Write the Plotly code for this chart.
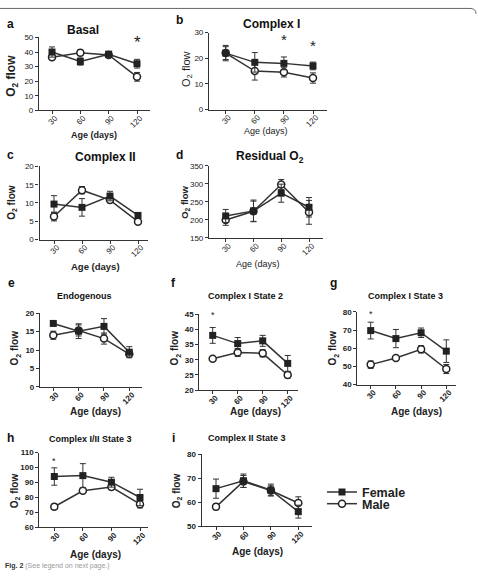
import plotly.graph_objects as go

W, H = 478, 576
FONT = "Liberation Sans, Arial, sans-serif"
INK = "#222222"

ages = ["30", "60", "90", "120"]

# ---- data (O2 flow, mean and error) ----
basal_female = [40.0, 33.5, 38.5, 32.0]
basal_female_err = [3.5, 2.5, 2.0, 3.0]
basal_male = [36.5, 39.5, 38.0, 23.0]
basal_male_err = [1.8, 2.0, 1.5, 3.0]

c1_female = [22.0, 18.4, 18.0, 17.0]
c1_female_err = [2.5, 3.8, 2.5, 1.5]
c1_male = [22.0, 15.0, 14.5, 12.3]
c1_male_err = [3.0, 3.5, 1.8, 2.0]

c2_female = [9.7, 8.8, 11.9, 6.6]
c2_female_err = [2.3, 2.4, 1.3, 0.6]
c2_male = [6.3, 13.5, 10.8, 4.9]
c2_male_err = [1.2, 1.0, 0.7, 0.7]

res_female = [211, 225, 274, 235]
res_female_err = [18, 30, 25, 27]
res_male = [200, 224, 298, 221]
res_male_err = [15, 28, 14, 33]

endo_female = [17.2, 15.1, 16.4, 9.4]
endo_female_err = [0.3, 2.0, 2.1, 1.5]
endo_male = [14.0, 15.3, 13.1, 8.9]
endo_male_err = [1.1, 1.5, 1.5, 0.5]

c1s2_female = [38.0, 35.3, 36.2, 28.8]
c1s2_female_err = [2.6, 2.0, 1.8, 2.6]
c1s2_male = [30.3, 32.4, 32.1, 25.0]
c1s2_male_err = [0.3, 1.3, 1.2, 1.0]

c1s3_female = [69.7, 65.3, 68.5, 58.4]
c1s3_female_err = [4.6, 5.0, 2.6, 6.2]
c1s3_male = [51.0, 54.6, 59.4, 48.6]
c1s3_male_err = [2.0, 0.5, 2.0, 2.5]

c12s3_female = [94.0, 94.6, 90.2, 80.0]
c12s3_female_err = [5.8, 8.0, 3.3, 5.5]
c12s3_male = [73.8, 84.5, 87.0, 75.5]
c12s3_male_err = [1.8, 1.0, 1.5, 2.5]

c2s3_female = [65.6, 68.9, 65.0, 56.0]
c2s3_female_err = [4.0, 2.8, 2.5, 2.7]
c2s3_male = [58.0, 68.6, 64.8, 59.6]
c2s3_male_err = [1.2, 2.5, 2.0, 2.6]

# ---- panel layout (pixel geometry) ----
panels = [
    dict(letter="a", title="<b>Basal</b>", tsize=12, data=(basal_female, basal_female_err, basal_male, basal_male_err),
         xl=39, xr=150, yt=34, yb=108, x30=52, x120=137, yr=(0, 50), dt=10,
         lab=(10, 20), tit=(83, 26), ytit=(12, 73, 12, True), xtit=(94, 133, 9, True), tick=(8, False),
         stars=[(3, 46.5, 17)]),
    dict(letter="b", title="<b>Complex I</b>", tsize=12, data=(c1_female, c1_female_err, c1_male, c1_male_err),
         xl=209, xr=327, yt=29, yb=107.3, x30=225.7, x120=313, yr=(0, 30), dt=10,
         lab=(179, 16), tit=(271, 20), ytit=(187, 66, 11, False), xtit=(266, 129, 9, False), tick=(8, False),
         stars=[(2, 27.3, 15), (3, 24.8, 15)]),
    dict(letter="c", title="<b>Complex II</b>", tsize=12, data=(c2_female, c2_female_err, c2_male, c2_male_err),
         xl=39.5, xr=148, yt=165, yb=239.3, x30=54, x120=138, yr=(0, 20), dt=5,
         lab=(10, 153), tit=(105, 155), ytit=(12, 202, 10, True), xtit=(95, 267, 9.5, True), tick=(8, False),
         stars=[]),
    dict(letter="d", title="<b>Residual O<sub>2</sub></b>", tsize=12, data=(res_female, res_female_err, res_male, res_male_err),
         xl=209, xr=322.7, yt=164.3, yb=237.7, x30=225.7, x120=309, yr=(150, 350), dt=50,
         lab=(179, 153), tit=(270, 155), ytit=(185, 202, 9.5, True), xtit=(258, 264, 9, False), tick=(8, False),
         stars=[]),
    dict(letter="e", title="<b>Endogenous</b>", tsize=9, data=(endo_female, endo_female_err, endo_male, endo_male_err),
         xl=40, xr=141.7, yt=314, yb=389, x30=53.3, x120=129.3, yr=(0, 20), dt=5,
         lab=(11, 283), tit=(84, 297), ytit=(15, 350, 10, True), xtit=(95, 414, 10, True), tick=(8, True),
         stars=[]),
    dict(letter="f", title="<b>Complex I State 2</b>", tsize=9, data=(c1s2_female, c1s2_female_err, c1s2_male, c1s2_male_err),
         xl=199.3, xr=298.3, yt=315, yb=392.3, x30=212.7, x120=287.7, yr=(20, 45), dt=5,
         lab=(173, 283), tit=(245, 297), ytit=(175, 350, 10, True), xtit=(255, 414, 10, True), tick=(8, True),
         stars=[(0, 44.6, 9)]),
    dict(letter="g", title="<b>Complex I State 3</b>", tsize=9, data=(c1s3_female, c1s3_female_err, c1s3_male, c1s3_male_err),
         xl=357.3, xr=456.3, yt=312.7, yb=386.7, x30=370.7, x120=446.3, yr=(40, 80), dt=10,
         lab=(333, 283), tit=(405, 297), ytit=(333, 350, 10, True), xtit=(416, 414, 10, True), tick=(8, True),
         stars=[(0, 79.0, 9)]),
    dict(letter="h", title="<b>Complex I/II State 3</b>", tsize=9, data=(c12s3_female, c12s3_female_err, c12s3_male, c12s3_male_err),
         xl=39.3, xr=148.3, yt=455.7, yb=531.7, x30=54.3, x120=140, yr=(60, 110), dt=10,
         lab=(10, 441), tit=(90, 442), ytit=(15, 495, 10, True), xtit=(95, 559, 10, True), tick=(8, True),
         stars=[(0, 104.5, 9)]),
    dict(letter="i", title="<b>Complex II State 3</b>", tsize=9, data=(c2s3_female, c2s3_female_err, c2s3_male, c2s3_male_err),
         xl=201.7, xr=311.7, yt=457.3, yb=530.3, x30=216, x120=298.3, yr=(50, 80), dt=10,
         lab=(173, 441), tit=(247, 441), ytit=(177, 495, 10, True), xtit=(257, 556, 10, True), tick=(8, True),
         stars=[]),
]


def px(x):
    return x / W


def py(y):
    return 1 - y / H


fig = go.Figure()
layout = {}
annotations = []

for k, p in enumerate(panels, start=1):
    sfx = "" if k == 1 else str(k)
    xa, ya = "x" + sfx, "y" + sfx
    fem, fem_err, mal, mal_err = p["data"]
    last = k == len(panels)

    fig.add_trace(go.Scatter(
        x=ages, y=mal, xaxis=xa, yaxis=ya, mode="lines+markers", name="Male",
        line=dict(color="#333333", width=1.5),
        marker=dict(symbol="circle", size=7, color="white", line=dict(color=INK, width=1.5)),
        error_y=dict(type="data", array=mal_err, visible=True, color="#333333", thickness=1, width=3),
        cliponaxis=False, showlegend=last, legend="legend2"))
    fig.add_trace(go.Scatter(
        x=ages, y=fem, xaxis=xa, yaxis=ya, mode="lines+markers", name="Female",
        line=dict(color="#333333", width=1.5),
        marker=dict(symbol="square", size=7, color=INK),
        error_y=dict(type="data", array=fem_err, visible=True, color="#333333", thickness=1, width=3),
        cliponaxis=False, showlegend=last, legend="legend"))

    s = (p["x120"] - p["x30"]) / 3.0
    xrange = [-(p["x30"] - p["xl"]) / s, 3 + (p["xr"] - p["x120"]) / s]
    tsz, tbold = p["tick"]
    tickfont = dict(family=FONT, size=tsz, color=INK, weight="bold" if tbold else "normal")
    layout["xaxis" + sfx] = dict(
        domain=[px(p["xl"]), px(p["xr"])], anchor=ya, type="category",
        categoryorder="array", categoryarray=ages, range=xrange,
        showline=True, linecolor="#333333", linewidth=1.2, ticks="outside", ticklen=3,
        tickcolor="#333333", tickwidth=1, tickangle=-45, tickfont=tickfont,
        ticklabelstandoff=-4, ticklabelshift=3,
        showgrid=False, zeroline=False, fixedrange=True)
    layout["yaxis" + sfx] = dict(
        domain=[py(p["yb"]), py(p["yt"])], anchor=xa, range=list(p["yr"]),
        tick0=p["yr"][0], dtick=p["dt"],
        showline=True, linecolor="#333333", linewidth=1.2, ticks="outside", ticklen=3,
        tickcolor="#333333", tickwidth=1, tickfont=tickfont,
        showgrid=False, zeroline=False, fixedrange=True)

    # panel letter
    annotations.append(dict(text="<b>%s</b>" % p["letter"], x=px(p["lab"][0]), y=py(p["lab"][1]),
                            xref="paper", yref="paper", showarrow=False, xanchor="center", yanchor="middle",
                            font=dict(family=FONT, size=12, color="#111111")))
    # title
    annotations.append(dict(text=p["title"], x=px(p["tit"][0]), y=py(p["tit"][1]),
                            xref="paper", yref="paper", showarrow=False, xanchor="center", yanchor="middle",
                            font=dict(family=FONT, size=p["tsize"], color="#111111")))
    # y title
    yx, yy, ysz, yb = p["ytit"]
    ytxt = "O<sub>2</sub> flow"
    annotations.append(dict(text="<b>%s</b>" % ytxt if yb else ytxt, x=px(yx), y=py(yy),
                            xref="paper", yref="paper", showarrow=False, xanchor="center", yanchor="middle",
                            textangle=-90, font=dict(family=FONT, size=ysz, color=INK)))
    # x title
    xx, xy, xsz, xb = p["xtit"]
    annotations.append(dict(text="<b>Age (days)</b>" if xb else "Age (days)", x=px(xx), y=py(xy),
                            xref="paper", yref="paper", showarrow=False, xanchor="center", yanchor="middle",
                            font=dict(family=FONT, size=xsz, color=INK)))
    # significance stars
    for cat, val, ssz in p["stars"]:
        annotations.append(dict(text="*", x=cat, y=val, xref=xa, yref=ya, showarrow=False,
                                xanchor="center", yanchor="middle",
                                font=dict(family=FONT, size=ssz, color=INK)))

# caption
annotations.append(dict(text="<b>Fig. 2</b> <span style='color:#9a9a9a'>(See legend on next page.)</span>",
                        x=px(3), y=py(571), xref="paper", yref="paper", showarrow=False,
                        xanchor="left", yanchor="middle", font=dict(family=FONT, size=7, color="#333333")))

legend_common = dict(xanchor="left", yanchor="middle", bgcolor="rgba(0,0,0,0)", borderwidth=0,
                     font=dict(family=FONT, size=12.5, color=INK, weight="bold"), itemwidth=30,
                     tracegroupgap=0)

fig.update_layout(
    width=W, height=H, autosize=False,
    margin=dict(l=0, r=0, t=0, b=0),
    paper_bgcolor="white", plot_bgcolor="white",
    annotations=annotations,
    legend=dict(x=px(322), y=py(496), **legend_common),
    legend2=dict(x=px(322), y=py(508), **legend_common),
    shapes=[dict(type="path", xref="paper", yref="paper",
                 path="M 0 %f L %f %f Q %f %f %f %f" % (py(4.5), px(470), py(4.5), px(476), py(4.5), px(476), py(10)),
                 line=dict(color="#666666", width=1))],
    **layout)

fig.write_html("out.html")
